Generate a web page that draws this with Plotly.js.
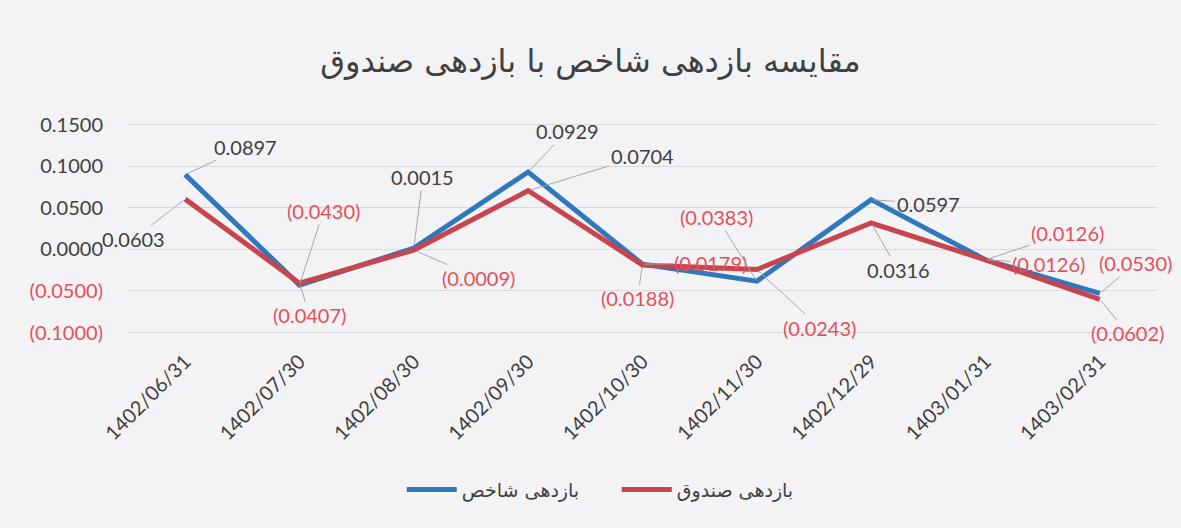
<!DOCTYPE html>
<html>
<head>
<meta charset="utf-8">
<script src="https://cdn.plot.ly/plotly-3.0.1.min.js"></script>
<style>
html,body{margin:0;padding:0;background:#f3f3f5;}
#chart{width:1181px;height:528px;}
</style>
</head>
<body>
<div id="chart"></div>
<script>
// ---- data ----
const categories = ['1402/06/31','1402/07/30','1402/08/30','1402/09/30','1402/10/30','1402/11/30','1402/12/29','1403/01/31','1403/02/31'];
const indexReturn = [0.0897, -0.0430, 0.0015, 0.0929, -0.0179, -0.0383, 0.0597, -0.0126, -0.0530];
const fundReturn  = [0.0603, -0.0407, -0.0009, 0.0704, -0.0188, -0.0243, 0.0316, -0.0126, -0.0602];
const seriesNames = ['بازدهی شاخص', 'بازدهی صندوق'];
const yTickVals = [-0.1, -0.05, 0, 0.05, 0.1, 0.15];
const chartTitle = 'مقایسه بازدهی شاخص با بازدهی صندوق';

// ---- styling / label placement (pixels) ----
const blue = '#2f78bb', red = '#c8444f';
const posColor = '#404040', negColor = '#e2505a';
const gridColor = '#d9d9d9';
const indexOffsets = [[60,-28],[24,-74],[9,-71],[39,-41],[68,-1],[-40,-64],[57,4],[82,-27],[36,-30]];
const fundOffsets  = [[-52,40],[10,32],[65,28],[114,-35],[-5,33],[63,58],[27,47],[63,4],[28,34]];

function fmt(v){ return v < 0 ? '(' + Math.abs(v).toFixed(4) + ')' : v.toFixed(4); }
function col(v){ return v < 0 ? negColor : posColor; }

const font = 'Lato, "Open Sans", sans-serif';
const faFont = '"DejaVu Sans", sans-serif';

const traces = [
  {x: categories, y: indexReturn, name: seriesNames[0], type:'scatter', mode:'lines',
   line:{color:blue, width:5}},
  {x: categories, y: fundReturn, name: seriesNames[1], type:'scatter', mode:'lines',
   line:{color:red, width:5}}
];

const annotations = [];
function addLabels(vals, offs){
  vals.forEach((v,i)=>{
    annotations.push({
      x: categories[i], y: v, xref:'x', yref:'y',
      text: fmt(v), showarrow:true, arrowhead:0, arrowwidth:1, arrowcolor:'#a6a6a6',
      ax: offs[i][0], ay: offs[i][1], standoff:2,
      font:{family:font, size:20, color:col(v)}
    });
  });
}
addLabels(indexReturn, indexOffsets);
addLabels(fundReturn, fundOffsets);

// edge gridlines (top and bottom ticks) drawn explicitly
const edgeTicks = [yTickVals[0], yTickVals[yTickVals.length-1]];
const shapes = edgeTicks.map(v => ({type:'line', xref:'paper', yref:'y', x0:0, x1:1, y0:v, y1:v,
  line:{color:gridColor, width:1}, layer:'below'}));

const yTickText = yTickVals.map(v => '<span style="color:' + col(v) + '">' + fmt(v) + '</span>');

const layout = {
  width:1181, height:528,
  paper_bgcolor:'#f3f3f5', plot_bgcolor:'#f3f3f5',
  margin:{l:128, r:24, t:124, b:195},
  title:{text: chartTitle, x:0.5, xanchor:'center', y:0.885, yanchor:'middle',
         font:{family:faFont, size:32, color:'#404040'}},
  xaxis:{type:'category', range:[-0.5, 8.5], tickangle:-45, showgrid:false, zeroline:false, showline:false,
         ticklabelstandoff:12,
         tickfont:{family:font, size:20, color:'#404040'}, ticks:''},
  yaxis:{range:[-0.1006, 0.1506], tickvals:yTickVals, ticktext:yTickText, showgrid:true,
         gridcolor:gridColor, gridwidth:1, zeroline:false, showline:false, ticks:'',
         ticklabelstandoff:24,
         tickfont:{family:font, size:20, color:'#404040'}},
  showlegend:true,
  legend:{orientation:'h', x:0.475, xanchor:'center', y:-0.75, yanchor:'middle',
          entrywidth:150, itemwidth:50,
          font:{family:faFont, size:19, color:'#404040'}, bgcolor:'rgba(0,0,0,0)'},
  shapes: shapes,
  annotations: annotations
};

Plotly.newPlot('chart', traces, layout, {displayModeBar:false, staticPlot:true});
</script>
</body>
</html>
